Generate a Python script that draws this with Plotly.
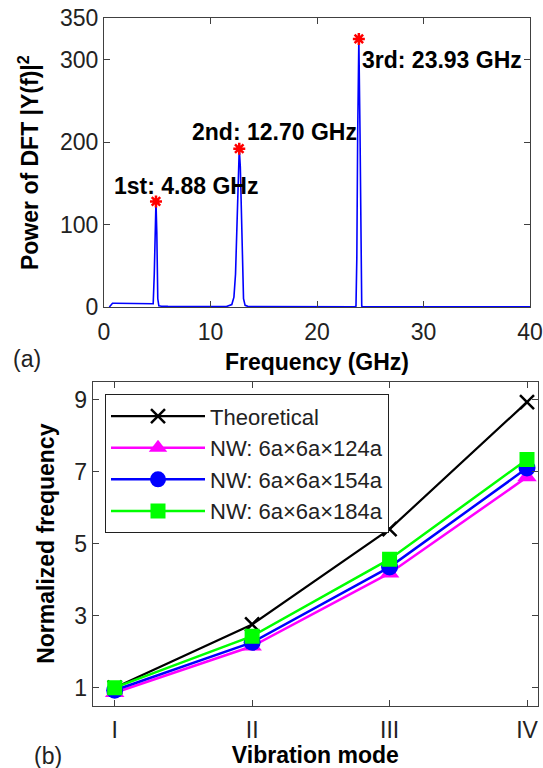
import plotly.graph_objects as go

# ---- (a) DFT power spectrum ----
freq_ghz = [0.5, 0.6, 0.8, 1.0, 2.0, 3.0, 4.0, 4.5, 4.62, 4.72, 4.80, 4.88, 4.96, 5.05, 5.15, 5.4,
            6.0, 8.0, 10.0, 11.5, 12.0, 12.2, 12.35, 12.5, 12.6, 12.7, 12.8, 12.9, 13.0, 13.1, 13.25,
            13.5, 14.0, 16.0, 18.0, 20.0, 22.0, 23.55, 23.66, 23.74, 23.82, 23.93, 24.04, 24.12,
            24.2, 24.3, 26.0, 30.0, 35.0, 40.0]
power = [0.0, 2.0, 4.5, 4.5, 4.2, 4.0, 3.8, 3.6, 4.0, 40.0, 110.0, 128.0, 90.0, 10.0, 1.5, 1.0,
         0.8, 0.6, 0.5, 0.6, 3.0, 12.0, 40.0, 120.0, 175.0, 192.0, 170.0, 110.0, 40.0, 10.0, 2.0,
         0.8, 0.5, 0.4, 0.3, 0.3, 0.3, 0.3, 1.0, 60.0, 210.0, 325.0, 210.0, 60.0, 1.0, 0.3, 0.3,
         0.2, 0.2, 0.2]
peak_freq = [4.88, 12.70, 23.93]
peak_power = [128, 192, 325]
peak_labels = ["1st: 4.88 GHz", "2nd: 12.70 GHz", "3rd: 23.93 GHz"]
label_x = [0.75, 8.1, 24.05]
label_y = [147, 212, 300]

# ---- (b) normalized frequencies ----
modes = [1, 2, 3, 4]
mode_labels = ["I", "II", "III", "IV"]
theoretical = [1.0, 2.757, 5.404, 8.933]
nw124 = [0.86, 2.15, 4.18, 6.85]
nw154 = [0.93, 2.26, 4.35, 7.10]
nw184 = [1.0, 2.43, 4.57, 7.34]

FONT = "Liberation Sans, Arial, sans-serif"
AX = "#404040"

fig = go.Figure()

fig.add_trace(go.Scatter(x=freq_ghz, y=power, mode="lines",
                         line=dict(color="#0000ff", width=1.6),
                         xaxis="x", yaxis="y", showlegend=False))
fig.add_trace(go.Scatter(x=peak_freq, y=peak_power, mode="markers",
                         marker=dict(symbol="asterisk-open", size=10, color="red",
                                     line=dict(color="red", width=2.5)),
                         xaxis="x", yaxis="y", showlegend=False))

series = [
    ("Theoretical", theoretical, "#000000", "x-thin-open", 14, 2.2),
    ("NW: 6a×6a×124a", nw124, "#ff00ff", "triangle-up", 17, 2.5),
    ("NW: 6a×6a×154a", nw154, "#0000ff", "circle", 17, 2.5),
    ("NW: 6a×6a×184a", nw184, "#00ff00", "square", 15, 2.5),
]
for i, (name, vals, col, sym, sz, lw) in enumerate(series):
    mk = dict(symbol=sym, size=sz, color=col)
    if sym == "x-thin-open":
        mk["line"] = dict(color=col, width=2.5)
    fig.add_trace(go.Scatter(x=modes, y=vals, mode="lines+markers", name=name,
                             line=dict(color=col, width=lw), marker=mk,
                             legendgroup=f"g{i}",
                             xaxis="x2", yaxis="y2"))

for t, xv, yv in zip(peak_labels, label_x, label_y):
    fig.add_annotation(x=xv, y=yv, xref="x", yref="y", text=f"<b>{t}</b>",
                       showarrow=False, xanchor="left", yanchor="middle",
                       font=dict(family=FONT, size=23, color="black"))

fig.add_annotation(x=27 / 543, y=1 - 359 / 768, xref="paper", yref="paper", text="(a)",
                   showarrow=False, xanchor="center", yanchor="middle",
                   font=dict(family=FONT, size=23, color="#222"))
fig.add_annotation(x=48 / 543, y=1 - 756 / 768, xref="paper", yref="paper", text="(b)",
                   showarrow=False, xanchor="center", yanchor="middle",
                   font=dict(family=FONT, size=23, color="#222"))

axis_common = dict(showline=True, linecolor=AX, linewidth=1, mirror="ticks", ticks="inside",
                   ticklen=6, tickcolor=AX, tickwidth=1, showgrid=False, zeroline=False,
                   automargin=False,
                   tickfont=dict(family=FONT, size=23, color="#222"))
title_font = dict(family=FONT, size=23, color="black")

fig.update_layout(
    width=543, height=768, margin=dict(l=0, r=0, t=0, b=0, autoexpand=False),
    paper_bgcolor="white", plot_bgcolor="white",
    xaxis=dict(domain=[104 / 543, 530 / 543], range=[0, 40], tickvals=[0, 10, 20, 30, 40],
               anchor="y", ticklabelstandoff=4,
               title=dict(text="<b>Frequency (GHz)</b>", font=title_font, standoff=10),
               **axis_common),
    yaxis=dict(domain=[1 - 307 / 768, 1 - 18.3 / 768], range=[0, 350],
               tickvals=[0, 100, 200, 300, 350], anchor="x",
               title=dict(text="<b>Power of DFT |Y(f)|<sup>2</sup></b>", font=title_font, standoff=14),
               **axis_common),
    xaxis2=dict(domain=[92.7 / 543, 538 / 543], range=[0.84, 4.08], tickvals=modes,
                ticktext=mode_labels, anchor="y2", ticklabelstandoff=4,
                title=dict(text="<b>Vibration mode</b>", font=title_font, standoff=12),
                **axis_common),
    yaxis2=dict(domain=[1 - 705.7 / 768, 1 - 381.7 / 768], range=[0.5, 9.5],
                tickvals=[1, 3, 5, 7, 9], anchor="x2",
                title=dict(text="<b>Normalized frequency</b>", font=title_font, standoff=13),
                **axis_common),
    legend=dict(x=105 / 543, y=1 - 394.3 / 768, xanchor="left", yanchor="top",
                bgcolor="white", bordercolor="#202020", borderwidth=1,
                font=dict(family=FONT, size=22, color="#222"),
                itemwidth=94, tracegroupgap=0, traceorder="normal"),
)

fig.write_html("out.html")
